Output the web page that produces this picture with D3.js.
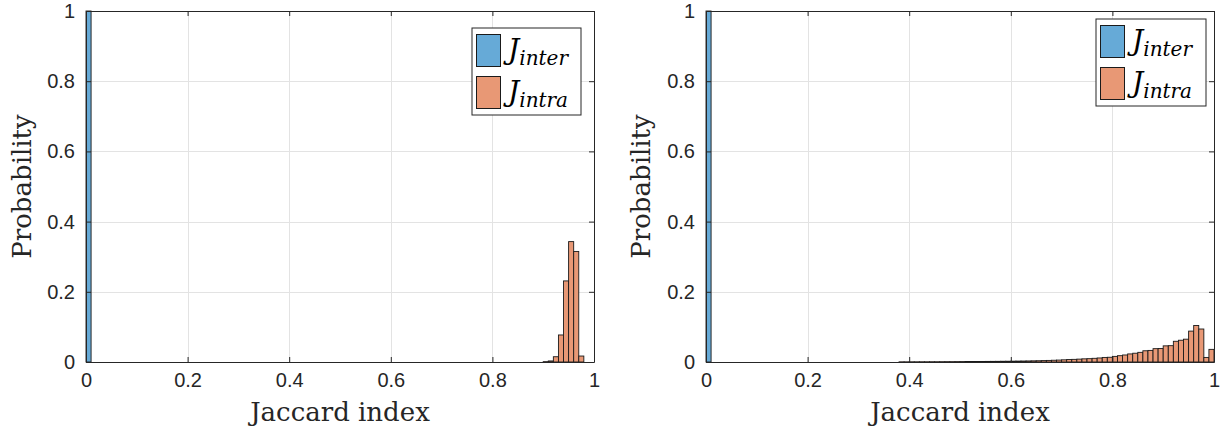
<!DOCTYPE html>
<html>
<head>
<meta charset="utf-8">
<script src="https://cdn.jsdelivr.net/npm/d3@7"></script>
<style>
  body { margin: 0; background: #fff; }
  .tick text { font-family: "Liberation Sans", Arial, sans-serif; font-size: 20px; fill: #262626; }
  .axis-label { font-family: "DejaVu Serif", serif; font-size: 26px; fill: #262626; }
  .legend-text { font-family: "DejaVu Serif", serif; font-style: italic; fill: #000; }
</style>
</head>
<body>
<svg id="chart" width="1225" height="432"></svg>
<script>
// bin width shared by every histogram
const binWidth = 0.01;

const xTicks = [0, 0.2, 0.4, 0.6, 0.8, 1];
const yTicks = [0, 0.2, 0.4, 0.6, 0.8, 1];

// left panel
const leftInterStart = 0.00;
const leftInter = [1.0];
const leftIntraStart = 0.90;
const leftIntra = [0.001, 0.003, 0.015, 0.077, 0.231, 0.343, 0.315, 0.017];

// right panel
const rightInterStart = 0.00;
const rightInter = [1.0];
const rightIntraStart = 0.38;
const rightIntra = [
  0.0005, 0.0005,
  0.0006, 0.0006, 0.0007, 0.0007, 0.0008, 0.0008, 0.0009, 0.0010, 0.0010, 0.0011,
  0.0012, 0.0013, 0.0013, 0.0015, 0.0016, 0.0017, 0.0018, 0.0019, 0.0021, 0.0022,
  0.0024, 0.0026, 0.0028, 0.0030, 0.0033, 0.0036, 0.0040, 0.0045, 0.0050, 0.0055,
  0.0062, 0.0070, 0.0075, 0.0082, 0.0090, 0.0095, 0.0105, 0.0115, 0.0130, 0.0135,
  0.0160, 0.0180, 0.0200, 0.0230, 0.0250, 0.0275, 0.0320, 0.0330, 0.0380, 0.0385,
  0.0460, 0.0465, 0.0590, 0.0620, 0.0650, 0.0880, 0.1040, 0.0940, 0.0130, 0.0360
];

const seriesNames = ["inter", "intra"];
const COLORS = { inter: "#66aad7", intra: "#e89875" };
const AXIS_COLOR = "#262626";
const GRID_COLOR = "#e3e3e3";

const panels = [
  { x0: 86, x1: 594, top: 11, bottom: 362, ylabelX: 22,
    legend: { x: 472, y: 28, w: 109, h: 87 },
    inter: { start: leftInterStart, values: leftInter },
    intra: { start: leftIntraStart, values: leftIntra } },
  { x0: 706, x1: 1214, top: 11, bottom: 362, ylabelX: 641,
    legend: { x: 1096, y: 19, w: 110, h: 87 },
    inter: { start: rightInterStart, values: rightInter },
    intra: { start: rightIntraStart, values: rightIntra } }
];

const svg = d3.select("#chart");
const fmt = d3.format("~g");

panels.forEach(p => {
  let g = svg.append("g");
  let x = d3.scaleLinear().domain([0, 1]).range([p.x0, p.x1]);
  let y = d3.scaleLinear().domain([0, 1]).range([p.bottom, p.top]);

  // grid
  g.append("g").selectAll("line.gx")
    .data(xTicks.slice(1, -1)).enter().append("line")
      .attr("x1", d => Math.round(x(d)) + 0.5).attr("x2", d => Math.round(x(d)) + 0.5)
      .attr("y1", p.top).attr("y2", p.bottom)
      .attr("stroke", GRID_COLOR);
  g.append("g").selectAll("line.gy")
    .data(yTicks.slice(1, -1)).enter().append("line")
      .attr("y1", d => Math.round(y(d)) + 0.5).attr("y2", d => Math.round(y(d)) + 0.5)
      .attr("x1", p.x0).attr("x2", p.x1)
      .attr("stroke", GRID_COLOR);

  // bars
  seriesNames.forEach(name => {
    let s = p[name];
    let bins = s.values.map((v, i) => ({ x: s.start + i * binWidth, v: v }));
    g.append("g").selectAll("rect")
      .data(bins).enter().append("rect")
        .attr("x", d => x(d.x))
        .attr("width", d => x(d.x + binWidth) - x(d.x))
        .attr("y", d => y(d.v))
        .attr("height", d => y(0) - y(d.v))
        .attr("fill", COLORS[name])
        .attr("stroke", "#1a1a1a")
        .attr("stroke-width", 0.9);
  });

  // axes (ticks point inward, box on)
  let bottomAx = g.append("g")
    .attr("transform", `translate(0,${p.bottom})`)
    .call(d3.axisBottom(x).tickValues(xTicks).tickSizeInner(-5).tickSizeOuter(0).tickPadding(11).tickFormat(fmt));
  let topAx = g.append("g")
    .attr("transform", `translate(0,${p.top})`)
    .call(d3.axisTop(x).tickValues(xTicks).tickSizeInner(-5).tickSizeOuter(0).tickFormat(""));
  let leftAx = g.append("g")
    .attr("transform", `translate(${p.x0},0)`)
    .call(d3.axisLeft(y).tickValues(yTicks).tickSizeInner(-5).tickSizeOuter(0).tickPadding(11).tickFormat(fmt));
  let rightAx = g.append("g")
    .attr("transform", `translate(${p.x1},0)`)
    .call(d3.axisRight(y).tickValues(yTicks).tickSizeInner(-5).tickSizeOuter(0).tickFormat(""));
  [bottomAx, topAx, leftAx, rightAx].forEach(a => {
    a.select(".domain").attr("stroke", AXIS_COLOR).attr("stroke-width", 1);
    a.selectAll(".tick line").attr("stroke", AXIS_COLOR);
  });
  bottomAx.selectAll("text").attr("dy", "0.71em");

  // axis labels
  g.append("text")
    .attr("class", "axis-label")
    .attr("text-anchor", "middle")
    .attr("x", (p.x0 + p.x1) / 2)
    .attr("y", 421)
    .text("Jaccard index");
  g.append("text")
    .attr("class", "axis-label")
    .attr("text-anchor", "middle")
    .attr("transform", `translate(${p.ylabelX},${(p.top + p.bottom) / 2}) rotate(-90)`)
    .attr("dy", "0.35em")
    .text("Probability");

  // legend
  let L = p.legend;
  let lg = g.append("g").attr("transform", `translate(${L.x},${L.y})`);
  lg.append("rect")
    .attr("width", L.w).attr("height", L.h)
    .attr("fill", "#fff").attr("stroke", AXIS_COLOR).attr("stroke-width", 1);
  seriesNames.forEach((name, i) => {
    let yy = 6 + i * 42;
    lg.append("rect")
      .attr("x", 4.5).attr("y", yy + 0.5)
      .attr("width", 24).attr("height", 32)
      .attr("fill", COLORS[name]).attr("stroke", "#1a1a1a").attr("stroke-width", 1);
    let t = lg.append("text")
      .attr("class", "legend-text")
      .attr("x", 36).attr("y", yy + 25);
    t.append("tspan").attr("font-size", 28).text("J");
    t.append("tspan").attr("font-size", 20).attr("dy", 6).text(name);
  });
});
</script>
</body>
</html>
